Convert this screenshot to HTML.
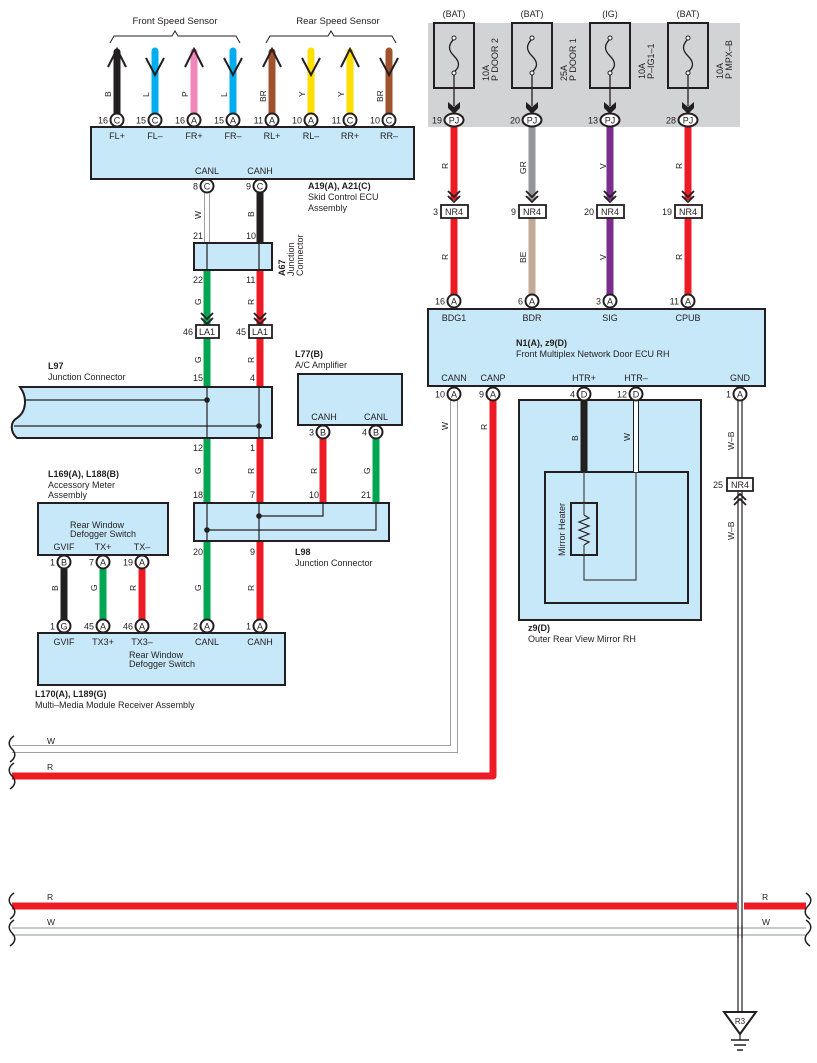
<!DOCTYPE html>
<html><head><meta charset="utf-8"><style>
html,body{margin:0;padding:0;background:#fff}
svg{display:block}
text{font-family:"Liberation Sans",sans-serif;fill:#231f20}
</style></head><body>
<svg width="817" height="1063" viewBox="0 0 817 1063" xmlns="http://www.w3.org/2000/svg" font-size="9">
<!-- gray fuse area -->
<rect x="428" y="23" width="312" height="104" fill="#d1d3d4"/>

<!-- ===== Top sensors ===== -->
<text x="175" y="24" text-anchor="middle" font-size="9.5">Front Speed Sensor</text>
<text x="338" y="24" text-anchor="middle" font-size="9.5">Rear Speed Sensor</text>
<path d="M110 43 L114 36 L172 36 L175 31 L178 36 L236 36 L240 43" fill="none" stroke="#231f20" stroke-width="1"/>
<path d="M266 43 L270 36 L328 36 L331 31 L334 36 L392 36 L396 43" fill="none" stroke="#231f20" stroke-width="1"/>

<g stroke-linecap="round">
<line x1="117" y1="52" x2="117" y2="114" stroke="#231f20" stroke-width="7"/>
<line x1="155" y1="51" x2="155" y2="114" stroke="#00aeef" stroke-width="7"/>
<line x1="194" y1="52" x2="194" y2="114" stroke="#f186b8" stroke-width="7"/>
<line x1="233" y1="51" x2="233" y2="114" stroke="#00aeef" stroke-width="7"/>
<line x1="272" y1="52" x2="272" y2="114" stroke="#a0522d" stroke-width="7"/>
<line x1="311" y1="51" x2="311" y2="114" stroke="#ffde00" stroke-width="7"/>
<line x1="350" y1="52" x2="350" y2="114" stroke="#ffde00" stroke-width="7"/>
<line x1="389" y1="51" x2="389" y2="114" stroke="#a0522d" stroke-width="7"/>
</g>
<g fill="none" stroke="#231f20" stroke-width="2">
<path d="M108 67 L117 49 L126 67"/>
<path d="M146 58 L155 75 L164 58"/>
<path d="M185 67 L194 49 L203 67"/>
<path d="M224 58 L233 75 L242 58"/>
<path d="M263 67 L272 49 L281 67"/>
<path d="M302 58 L311 75 L320 58"/>
<path d="M341 67 L350 49 L359 67"/>
<path d="M380 58 L389 75 L398 58"/>
</g>
<g font-size="8.5">
<text transform="translate(111,97) rotate(-90)">B</text>
<text transform="translate(149,97) rotate(-90)">L</text>
<text transform="translate(188,97) rotate(-90)">P</text>
<text transform="translate(227,97) rotate(-90)">L</text>
<text transform="translate(266,102) rotate(-90)">BR</text>
<text transform="translate(305,97) rotate(-90)">Y</text>
<text transform="translate(344,97) rotate(-90)">Y</text>
<text transform="translate(383,102) rotate(-90)">BR</text>
</g>

<!-- Skid ECU box -->
<rect x="91" y="127" width="323" height="52" fill="#c7e8f8" stroke="#231f20" stroke-width="2"/>
<g text-anchor="middle">
<text x="117" y="139">FL+</text><text x="155" y="139">FL–</text><text x="194" y="139">FR+</text><text x="233" y="139">FR–</text>
<text x="272" y="139">RL+</text><text x="311" y="139">RL–</text><text x="350" y="139">RR+</text><text x="389" y="139">RR–</text>
<text x="207" y="174">CANL</text><text x="260" y="174">CANH</text>
</g>

<!-- A67 wires -->
<line x1="207" y1="192" x2="207" y2="244" stroke="#9d9fa2" stroke-width="6"/>
<line x1="207" y1="192" x2="207" y2="244" stroke="#fff" stroke-width="4"/>
<line x1="260" y1="192" x2="260" y2="244" stroke="#231f20" stroke-width="7"/>
<line x1="207" y1="270" x2="207" y2="330" stroke="#00a651" stroke-width="7"/>
<line x1="260" y1="270" x2="260" y2="330" stroke="#ed1c24" stroke-width="7"/>
<text transform="translate(201,219) rotate(-90)" font-size="8.5">W</text>
<text transform="translate(254,217) rotate(-90)" font-size="8.5">B</text>
<text transform="translate(201,305) rotate(-90)" font-size="8.5">G</text>
<text transform="translate(254,305) rotate(-90)" font-size="8.5">R</text>
<rect x="194" y="243" width="78" height="27" fill="#c7e8f8" stroke="#231f20" stroke-width="2"/>
<line x1="207" y1="243" x2="207" y2="270" stroke="#231f20" stroke-width="1.2"/>
<line x1="259" y1="243" x2="259" y2="270" stroke="#231f20" stroke-width="1.2"/>
<text x="193" y="239" font-size="9">21</text><text x="246" y="239" font-size="9">10</text>
<text x="193" y="283" font-size="9">22</text><text x="246" y="283" font-size="9">11</text>
<text transform="translate(285,276) rotate(-90)" font-weight="bold" font-size="9">A67</text>
<text transform="translate(294,276) rotate(-90)" font-size="9">Junction</text>
<text transform="translate(303,276) rotate(-90)" font-size="9">Connector</text>

<text x="308" y="189" font-weight="bold">A19(A), A21(C)</text>
<text x="308" y="200">Skid Control ECU</text>
<text x="308" y="211">Assembly</text>

<!-- LA1 -->
<g fill="none" stroke="#231f20" stroke-width="1.8">
<path d="M201 313 L207 319 L213 313 M201 318 L207 324 L213 318"/>
<path d="M254 313 L260 319 L266 313 M254 318 L260 324 L266 318"/>
</g>
<line x1="207" y1="338" x2="207" y2="388" stroke="#00a651" stroke-width="7"/>
<line x1="260" y1="338" x2="260" y2="388" stroke="#ed1c24" stroke-width="7"/>
<rect x="196" y="325" width="23" height="13" fill="#fff" stroke="#231f20" stroke-width="1.8"/>
<rect x="249" y="325" width="23" height="13" fill="#fff" stroke="#231f20" stroke-width="1.8"/>
<text x="207" y="335" text-anchor="middle">LA1</text><text x="260" y="335" text-anchor="middle">LA1</text>
<text x="193" y="335" text-anchor="end">46</text><text x="246" y="335" text-anchor="end">45</text>
<text transform="translate(201,363) rotate(-90)" font-size="8.5">G</text>
<text transform="translate(254,363) rotate(-90)" font-size="8.5">R</text>
<text x="193" y="381">15</text><text x="250" y="381">4</text>

<!-- L97 -->
<text x="48" y="369" font-weight="bold">L97</text>
<text x="48" y="380">Junction Connector</text>
<path d="M20 387 L272 387 L272 438 L17 438 C10 432 10 422 17 418 C26 412 28 398 20 387 Z" fill="#c7e8f8" stroke="#231f20" stroke-width="2"/>
<line x1="25" y1="400" x2="207" y2="400" stroke="#231f20" stroke-width="1.2"/>
<line x1="14" y1="426" x2="259" y2="426" stroke="#231f20" stroke-width="1.2"/>
<line x1="207" y1="387" x2="207" y2="438" stroke="#231f20" stroke-width="1.2"/>
<line x1="259" y1="387" x2="259" y2="438" stroke="#231f20" stroke-width="1.2"/>
<circle cx="207" cy="400" r="2.8" fill="#231f20"/><circle cx="259" cy="426" r="2.8" fill="#231f20"/>

<!-- L97 -> L98 -->
<line x1="207" y1="439" x2="207" y2="503" stroke="#00a651" stroke-width="7"/>
<line x1="260" y1="439" x2="260" y2="503" stroke="#ed1c24" stroke-width="7"/>
<text x="193" y="451">12</text><text x="250" y="451">1</text>
<text transform="translate(201,474) rotate(-90)" font-size="8.5">G</text>
<text transform="translate(254,474) rotate(-90)" font-size="8.5">R</text>
<text x="193" y="498">18</text><text x="250" y="498">7</text>

<!-- L77 -->
<text x="295" y="357" font-weight="bold">L77(B)</text>
<text x="295" y="368">A/C Amplifier</text>
<rect x="298" y="374" width="104" height="51" fill="#c7e8f8" stroke="#231f20" stroke-width="2"/>
<text x="324" y="420" text-anchor="middle">CANH</text><text x="376" y="420" text-anchor="middle">CANL</text>
<line x1="323" y1="438" x2="323" y2="503" stroke="#ed1c24" stroke-width="7"/>
<line x1="376" y1="438" x2="376" y2="503" stroke="#00a651" stroke-width="7"/>
<text transform="translate(317,474) rotate(-90)" font-size="8.5">R</text>
<text transform="translate(370,474) rotate(-90)" font-size="8.5">G</text>
<text x="309" y="498">10</text><text x="361" y="498">21</text>

<!-- L98 -->
<rect x="194" y="503" width="195" height="38" fill="#c7e8f8" stroke="#231f20" stroke-width="2"/>
<path d="M323 503 L323 516 L259 516" fill="none" stroke="#231f20" stroke-width="1.2"/>
<path d="M376 503 L376 530 L207 530" fill="none" stroke="#231f20" stroke-width="1.2"/>
<line x1="207" y1="503" x2="207" y2="541" stroke="#231f20" stroke-width="1.2"/>
<line x1="259" y1="503" x2="259" y2="541" stroke="#231f20" stroke-width="1.2"/>
<circle cx="259" cy="516" r="2.8" fill="#231f20"/><circle cx="207" cy="530" r="2.8" fill="#231f20"/>
<text x="295" y="555" font-weight="bold">L98</text>
<text x="295" y="566">Junction Connector</text>
<line x1="207" y1="542" x2="207" y2="620" stroke="#00a651" stroke-width="7"/>
<line x1="260" y1="542" x2="260" y2="620" stroke="#ed1c24" stroke-width="7"/>
<text x="193" y="555">20</text><text x="250" y="555">9</text>
<text transform="translate(201,591) rotate(-90)" font-size="8.5">G</text>
<text transform="translate(254,591) rotate(-90)" font-size="8.5">R</text>

<!-- Accessory meter -->
<text x="48" y="477" font-weight="bold">L169(A), L188(B)</text>
<text x="48" y="488">Accessory Meter</text>
<text x="48" y="498">Assembly</text>
<rect x="38" y="503" width="130" height="52" fill="#c7e8f8" stroke="#231f20" stroke-width="2"/>
<text x="70" y="528">Rear Window</text><text x="70" y="537">Defogger Switch</text>
<text x="64" y="550" text-anchor="middle">GVIF</text><text x="103" y="550" text-anchor="middle">TX+</text><text x="142" y="550" text-anchor="middle">TX–</text>
<line x1="64" y1="569" x2="64" y2="620" stroke="#231f20" stroke-width="7"/>
<line x1="103" y1="569" x2="103" y2="620" stroke="#00a651" stroke-width="7"/>
<line x1="142" y1="569" x2="142" y2="620" stroke="#ed1c24" stroke-width="7"/>
<text transform="translate(58,591) rotate(-90)" font-size="8.5">B</text>
<text transform="translate(97,591) rotate(-90)" font-size="8.5">G</text>
<text transform="translate(136,591) rotate(-90)" font-size="8.5">R</text>

<!-- Multi-media -->
<rect x="38" y="633" width="247" height="52" fill="#c7e8f8" stroke="#231f20" stroke-width="2"/>
<g text-anchor="middle">
<text x="64" y="645">GVIF</text><text x="103" y="645">TX3+</text><text x="142" y="645">TX3–</text><text x="207" y="645">CANL</text><text x="260" y="645">CANH</text>
</g>
<text x="129" y="658">Rear Window</text><text x="129" y="667">Defogger Switch</text>
<text x="35" y="697" font-weight="bold">L170(A), L189(G)</text>
<text x="35" y="708">Multi–Media Module Receiver Assembly</text>

<!-- ===== Right side fuses ===== -->
<g text-anchor="middle">
<text x="454" y="17">(BAT)</text><text x="532" y="17">(BAT)</text><text x="610" y="17">(IG)</text><text x="688" y="17">(BAT)</text>
</g>
<g fill="none" stroke="#231f20" stroke-width="2">
<rect x="434" y="23" width="40" height="65"/><rect x="512" y="23" width="40" height="65"/>
<rect x="590" y="23" width="40" height="65"/><rect x="668" y="23" width="40" height="65"/>
</g>
<g fill="none" stroke="#231f20" stroke-width="1.3">
<path d="M454 39 C448 45 448 50 454 56 C460 62 460 67 454 72"/>
<path d="M532 39 C526 45 526 50 532 56 C538 62 538 67 532 72"/>
<path d="M610 39 C604 45 604 50 610 56 C616 62 616 67 610 72"/>
<path d="M688 39 C682 45 682 50 688 56 C694 62 694 67 688 72"/>
<line x1="454" y1="74" x2="454" y2="106"/><line x1="532" y1="74" x2="532" y2="106"/>
<line x1="610" y1="74" x2="610" y2="106"/><line x1="688" y1="74" x2="688" y2="106"/>
</g>
<g fill="#fff" stroke="#231f20" stroke-width="1">
<circle cx="454" cy="38" r="2"/><circle cx="454" cy="73" r="2"/><circle cx="532" cy="38" r="2"/><circle cx="532" cy="73" r="2"/>
<circle cx="610" cy="38" r="2"/><circle cx="610" cy="73" r="2"/><circle cx="688" cy="38" r="2"/><circle cx="688" cy="73" r="2"/>
</g>
<g fill="#231f20">
<path d="M448 102 L454 107 L460 102 L460 108 L454 114 L448 108Z"/>
<path d="M526 102 L532 107 L538 102 L538 108 L532 114 L526 108Z"/>
<path d="M604 102 L610 107 L616 102 L616 108 L610 114 L604 108Z"/>
<path d="M682 102 L688 107 L694 102 L694 108 L688 114 L682 108Z"/>
</g>
<g font-size="9">
<text transform="translate(489,81) rotate(-90)">10A</text><text transform="translate(498,81) rotate(-90)">P DOOR 2</text>
<text transform="translate(567,81) rotate(-90)">25A</text><text transform="translate(576,81) rotate(-90)">P DOOR 1</text>
<text transform="translate(645,79) rotate(-90)">10A</text><text transform="translate(654,79) rotate(-90)">P–IG1–1</text>
<text transform="translate(723,79) rotate(-90)">10A</text><text transform="translate(732,79) rotate(-90)">P MPX–B</text>
</g>

<!-- fuse -> NR4 wires -->
<line x1="454" y1="127" x2="454" y2="200" stroke="#ed1c24" stroke-width="7"/>
<line x1="532" y1="127" x2="532" y2="200" stroke="#939598" stroke-width="7"/>
<line x1="610" y1="127" x2="610" y2="200" stroke="#7b2c8f" stroke-width="7"/>
<line x1="688" y1="127" x2="688" y2="200" stroke="#ed1c24" stroke-width="7"/>
<line x1="454" y1="218" x2="454" y2="295" stroke="#ed1c24" stroke-width="7"/>
<line x1="532" y1="218" x2="532" y2="295" stroke="#c2ab95" stroke-width="7"/>
<line x1="610" y1="218" x2="610" y2="295" stroke="#7b2c8f" stroke-width="7"/>
<line x1="688" y1="218" x2="688" y2="295" stroke="#ed1c24" stroke-width="7"/>
<g fill="none" stroke="#231f20" stroke-width="1.8">
<path d="M448 191 L454 197 L460 191 M448 196 L454 202 L460 196"/>
<path d="M526 191 L532 197 L538 191 M526 196 L532 202 L538 196"/>
<path d="M604 191 L610 197 L616 191 M604 196 L610 202 L616 196"/>
<path d="M682 191 L688 197 L694 191 M682 196 L688 202 L694 196"/>
</g>
<g fill="#fff" stroke="#231f20" stroke-width="1.8">
<rect x="441" y="205" width="27" height="13"/><rect x="519" y="205" width="27" height="13"/>
<rect x="597" y="205" width="27" height="13"/><rect x="675" y="205" width="27" height="13"/>
</g>
<g text-anchor="middle">
<text x="454" y="215">NR4</text><text x="532" y="215">NR4</text><text x="610" y="215">NR4</text><text x="688" y="215">NR4</text>
</g>
<g text-anchor="end">
<text x="438" y="215">3</text><text x="516" y="215">9</text><text x="594" y="215">20</text><text x="672" y="215">19</text>
</g>
<g font-size="8.5">
<text transform="translate(448,169) rotate(-90)">R</text><text transform="translate(526,174) rotate(-90)">GR</text>
<text transform="translate(606,169) rotate(-90)">V</text><text transform="translate(682,169) rotate(-90)">R</text>
<text transform="translate(448,260) rotate(-90)">R</text><text transform="translate(526,263) rotate(-90)">BE</text>
<text transform="translate(606,260) rotate(-90)">V</text><text transform="translate(682,260) rotate(-90)">R</text>
</g>

<!-- N1 box -->
<rect x="428" y="309" width="337" height="77" fill="#c7e8f8" stroke="#231f20" stroke-width="2"/>
<g text-anchor="middle">
<text x="454" y="321">BDG1</text><text x="532" y="321">BDR</text><text x="610" y="321">SIG</text><text x="688" y="321">CPUB</text>
<text x="454" y="381">CANN</text><text x="493" y="381">CANP</text><text x="584" y="381">HTR+</text><text x="636" y="381">HTR–</text><text x="740" y="381">GND</text>
</g>
<text x="516" y="346" font-weight="bold">N1(A), z9(D)</text>
<text x="516" y="357">Front Multiplex Network Door ECU RH</text>

<!-- CANN W wire and CANP R wire -->
<path d="M454 400 L454 749 L12 749" fill="none" stroke="#9d9fa2" stroke-width="8"/>
<path d="M454 400 L454 749 L12 749" fill="none" stroke="#fff" stroke-width="6"/>
<path d="M493 400 L493 776 L12 776" fill="none" stroke="#ed1c24" stroke-width="7" stroke-linejoin="round"/>
<text transform="translate(448,430) rotate(-90)" font-size="8.5">W</text>
<text transform="translate(487,430) rotate(-90)" font-size="8.5">R</text>
<text x="47" y="744" font-size="8.5">W</text>
<text x="47" y="770" font-size="8.5">R</text>
<g fill="none" stroke="#231f20" stroke-width="1.5">
<path d="M14 736 C8 740 8 745 12 749 C16 753 16 758 10 762"/>
<path d="M14 763 C8 767 8 772 12 776 C16 780 16 785 10 789"/>
</g>

<!-- Mirror -->
<rect x="519" y="400" width="182" height="220" fill="#c7e8f8" stroke="#231f20" stroke-width="2"/>
<rect x="545" y="472" width="143" height="131" fill="#c7e8f8" stroke="#231f20" stroke-width="2"/>
<line x1="584" y1="400" x2="584" y2="472" stroke="#231f20" stroke-width="7"/>
<line x1="636" y1="400" x2="636" y2="472" stroke="#231f20" stroke-width="6"/>
<line x1="636" y1="400" x2="636" y2="472" stroke="#fff" stroke-width="4"/>
<text transform="translate(578,441) rotate(-90)" font-size="8.5">B</text>
<text transform="translate(630,441) rotate(-90)" font-size="8.5">W</text>
<path d="M584 472 L584 580 L636 580 L636 472" fill="none" stroke="#444" stroke-width="1.2"/>
<rect x="571" y="503" width="26" height="52" fill="#c7e8f8" stroke="#231f20" stroke-width="2"/>
<path d="M584 515 L589 518 L579 522 L589 526 L579 530 L589 534 L579 538 L589 542 L584 545" fill="none" stroke="#231f20" stroke-width="1.2"/>
<line x1="584" y1="503" x2="584" y2="515" stroke="#444" stroke-width="1.2"/>
<line x1="584" y1="545" x2="584" y2="555" stroke="#444" stroke-width="1.2"/>
<text transform="translate(565,556) rotate(-90)" font-size="9">Mirror Heater</text>
<text x="528" y="631" font-weight="bold">z9(D)</text>
<text x="528" y="642">Outer Rear View Mirror RH</text>

<!-- GND W-B -->
<line x1="738" y1="400" x2="738" y2="1012" stroke="#231f20" stroke-width="1.2"/>
<line x1="742" y1="400" x2="742" y2="1012" stroke="#231f20" stroke-width="1.2"/>
<rect x="727" y="478" width="26" height="13" fill="#fff" stroke="#231f20" stroke-width="1.8"/>
<text x="740" y="488" text-anchor="middle">NR4</text>
<text x="723" y="488" text-anchor="end">25</text>
<path d="M734 500 L740 494 L746 500 M734 505 L740 499 L746 505" fill="none" stroke="#231f20" stroke-width="1.8"/>
<text transform="translate(734,450) rotate(-90)" font-size="8.5">W–B</text>
<text transform="translate(734,540) rotate(-90)" font-size="8.5">W–B</text>

<!-- bottom bus -->
<line x1="12" y1="906" x2="737" y2="906" stroke="#ed1c24" stroke-width="7"/>
<line x1="744" y1="906" x2="806" y2="906" stroke="#ed1c24" stroke-width="7"/>
<line x1="12" y1="928" x2="806" y2="928" stroke="#939598" stroke-width="1"/>
<line x1="12" y1="935" x2="806" y2="935" stroke="#939598" stroke-width="1"/>
<line x1="738" y1="925" x2="738" y2="938" stroke="#231f20" stroke-width="1.2"/>
<line x1="742" y1="925" x2="742" y2="938" stroke="#231f20" stroke-width="1.2"/>
<text x="47" y="900" font-size="8.5">R</text><text x="762" y="900" font-size="8.5">R</text>
<text x="47" y="925" font-size="8.5">W</text><text x="762" y="925" font-size="8.5">W</text>
<g fill="none" stroke="#231f20" stroke-width="1.5">
<path d="M14 893 C8 897 8 902 12 906 C16 910 16 915 10 919"/>
<path d="M14 920 C8 924 8 929 12 933 C16 937 16 942 10 946"/>
<path d="M806 893 C812 897 812 902 808 906 C804 910 804 915 810 919"/>
<path d="M806 920 C812 924 812 929 808 933 C804 937 804 942 810 946"/>
</g>

<!-- ground -->
<path d="M724 1012 L756 1012 L740 1034 Z" fill="#fff" stroke="#231f20" stroke-width="2"/>
<text x="740" y="1024" text-anchor="middle" font-size="8">R3</text>
<line x1="740" y1="1034" x2="740" y2="1040" stroke="#231f20" stroke-width="1.2"/>
<line x1="731" y1="1040" x2="749" y2="1040" stroke="#231f20" stroke-width="1.5"/>
<line x1="734" y1="1045" x2="746" y2="1045" stroke="#231f20" stroke-width="1.5"/>
<line x1="737" y1="1050" x2="743" y2="1050" stroke="#231f20" stroke-width="1.5"/>

<!-- ===== pins (drawn last) ===== -->
<g font-size="9">
<!-- generic pin: circle + letter + number -->
<g stroke="#231f20" stroke-width="2" fill="#fff">
<circle cx="117" cy="120" r="6.5"/><circle cx="155" cy="120" r="6.5"/><circle cx="194" cy="120" r="6.5"/><circle cx="233" cy="120" r="6.5"/>
<circle cx="272" cy="120" r="6.5"/><circle cx="311" cy="120" r="6.5"/><circle cx="350" cy="120" r="6.5"/><circle cx="389" cy="120" r="6.5"/>
<circle cx="207" cy="186" r="6.5"/><circle cx="260" cy="186" r="6.5"/>
<circle cx="323" cy="432" r="6.5"/><circle cx="376" cy="432" r="6.5"/>
<circle cx="64" cy="562" r="6.5"/><circle cx="103" cy="562" r="6.5"/><circle cx="142" cy="562" r="6.5"/>
<circle cx="64" cy="626" r="6.5"/><circle cx="103" cy="626" r="6.5"/><circle cx="142" cy="626" r="6.5"/><circle cx="207" cy="626" r="6.5"/><circle cx="260" cy="626" r="6.5"/>
<circle cx="454" cy="301" r="6.5"/><circle cx="532" cy="301" r="6.5"/><circle cx="610" cy="301" r="6.5"/><circle cx="688" cy="301" r="6.5"/>
<circle cx="454" cy="394" r="6.5"/><circle cx="493" cy="394" r="6.5"/><circle cx="584" cy="394" r="6.5"/><circle cx="636" cy="394" r="6.5"/><circle cx="740" cy="394" r="6.5"/>
<ellipse cx="454" cy="120" rx="9.5" ry="6.5"/><ellipse cx="532" cy="120" rx="9.5" ry="6.5"/><ellipse cx="610" cy="120" rx="9.5" ry="6.5"/><ellipse cx="688" cy="120" rx="9.5" ry="6.5"/>
</g>
<g text-anchor="middle">
<text x="117" y="123.5">C</text><text x="155" y="123.5">C</text><text x="194" y="123.5">A</text><text x="233" y="123.5">A</text>
<text x="272" y="123.5">A</text><text x="311" y="123.5">A</text><text x="350" y="123.5">C</text><text x="389" y="123.5">C</text>
<text x="207" y="189.5">C</text><text x="260" y="189.5">C</text>
<text x="323" y="435.5">B</text><text x="376" y="435.5">B</text>
<text x="64" y="565.5">B</text><text x="103" y="565.5">A</text><text x="142" y="565.5">A</text>
<text x="64" y="629.5">G</text><text x="103" y="629.5">A</text><text x="142" y="629.5">A</text><text x="207" y="629.5">A</text><text x="260" y="629.5">A</text>
<text x="454" y="304.5">A</text><text x="532" y="304.5">A</text><text x="610" y="304.5">A</text><text x="688" y="304.5">A</text>
<text x="454" y="397.5">A</text><text x="493" y="397.5">A</text><text x="584" y="397.5">D</text><text x="636" y="397.5">D</text><text x="740" y="397.5">A</text>
<text x="454" y="123.5">PJ</text><text x="532" y="123.5">PJ</text><text x="610" y="123.5">PJ</text><text x="688" y="123.5">PJ</text>
</g>
<g text-anchor="end">
<text x="108" y="123.5">16</text><text x="146" y="123.5">15</text><text x="185" y="123.5">16</text><text x="224" y="123.5">15</text>
<text x="263" y="123.5">11</text><text x="302" y="123.5">10</text><text x="341" y="123.5">11</text><text x="380" y="123.5">10</text>
<text x="198" y="189.5">8</text><text x="251" y="189.5">9</text>
<text x="314" y="435.5">3</text><text x="367" y="435.5">4</text>
<text x="55" y="565.5">1</text><text x="94" y="565.5">7</text><text x="133" y="565.5">19</text>
<text x="55" y="629.5">1</text><text x="94" y="629.5">45</text><text x="133" y="629.5">46</text><text x="198" y="629.5">2</text><text x="251" y="629.5">1</text>
<text x="445" y="304.5">16</text><text x="523" y="304.5">6</text><text x="601" y="304.5">3</text><text x="679" y="304.5">11</text>
<text x="445" y="397.5">10</text><text x="484" y="397.5">9</text><text x="575" y="397.5">4</text><text x="627" y="397.5">12</text><text x="731" y="397.5">1</text>
<text x="442" y="123.5">19</text><text x="520" y="123.5">20</text><text x="598" y="123.5">13</text><text x="676" y="123.5">28</text>
</g>
</g>
</svg>
</body></html>
